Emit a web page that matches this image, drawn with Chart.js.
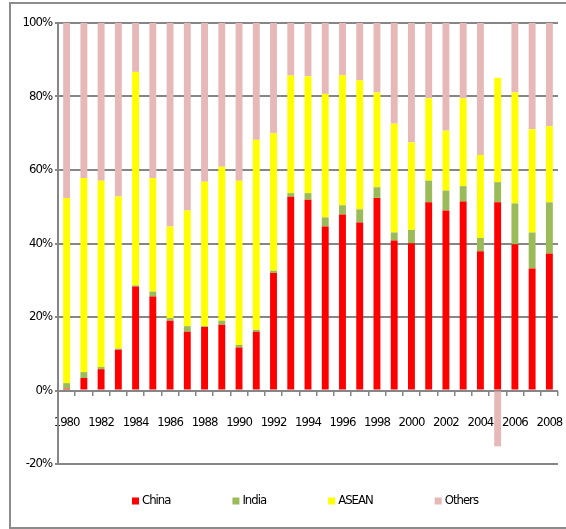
<!DOCTYPE html>
<html>
<head>
<meta charset="utf-8">
<script src="https://cdn.jsdelivr.net/npm/chart.js@4.4.1/dist/chart.umd.min.js"></script>
<style>
  html, body { margin: 0; padding: 0; background: #fff; overflow: hidden; }
  #frame { position: absolute; left: 9px; top: 2px; width: 620px; height: 527px; border: 2px solid #8c8c8c; box-sizing: border-box; }
  #wrap { position: absolute; left: 0; top: 0; width: 566px; height: 529px; }
</style>
</head>
<body>
<div id="frame"></div>
<div id="wrap"><canvas id="share-chart"></canvas></div>
<script>
const years = [
    1980, 1981, 1982, 1983, 1984, 1985, 1986, 1987, 1988, 1989,
    1990, 1991, 1992, 1993, 1994, 1995, 1996, 1997, 1998, 1999,
    2000, 2001, 2002, 2003, 2004, 2005, 2006, 2007, 2008,
];

// shares in %, stacked bottom to top
const china = [
    0.5, 3.4, 5.8, 11.1, 28.3, 25.6, 19.0, 16.0, 17.3, 17.9,
    11.7, 16.0, 32.0, 52.7, 51.9, 44.6, 47.9, 45.7, 52.4, 40.8,
    40.1, 51.2, 49.0, 51.4, 37.9, 51.2, 39.8, 33.2, 37.3,
];
const india = [
    1.5, 1.6, 0.6, 0.3, 0.3, 1.3, 0.7, 1.5, 0.2, 1.1,
    0.7, 0.5, 0.6, 1.0, 1.8, 2.5, 2.5, 3.6, 2.9, 2.2,
    3.6, 5.9, 5.4, 4.2, 3.6, 5.5, 11.1, 9.8, 13.9,
];
const asean = [
    50.4, 52.8, 50.7, 41.4, 58.1, 30.9, 24.9, 31.5, 39.3, 41.9,
    44.7, 51.7, 37.4, 32.0, 31.8, 33.6, 35.4, 35.1, 25.8, 29.6,
    23.8, 22.4, 16.3, 23.9, 22.6, 28.4, 30.2, 28.1, 20.7,
];
const others = [
    47.6, 42.2, 42.9, 47.2, 13.3, 42.2, 55.4, 51.0, 43.2, 39.1,
    42.9, 31.8, 30.0, 14.3, 14.5, 19.3, 14.2, 15.6, 18.9, 27.4,
    32.5, 20.5, 29.3, 20.5, 35.9, -15.2, 18.9, 28.9, 28.1,
];

const yTicks = [-20, 0, 20, 40, 60, 80, 100];

const fontFamily = "'DejaVu Sans', sans-serif";
const fontSize = 13;
const letterGap = "-1px";
const gridColor = "#868686";

Chart.defaults.font.family = fontFamily;
Chart.defaults.font.size = fontSize;
// goes into the canvas font shorthand -> condensed face
Chart.defaults.font.weight = "condensed";
Chart.defaults.color = "#000";

// tighter letters for all chart text
const tightText = {
    id: "tightText",
    beforeDraw(chart) {
        chart.ctx.letterSpacing = letterGap;
    },
};

// legend in one row with wide gaps, drawn under the plot
const legendRow = {
    id: "legendRow",
    afterDraw(chart) {
        const { ctx, chartArea } = chart;
        const sets = chart.data.datasets;
        const box = 7, gap = 3, spacing = 62, y = 501;
        ctx.save();
        ctx.font = "condensed " + fontSize + "px " + fontFamily;
        ctx.letterSpacing = letterGap;
        ctx.textBaseline = "middle";
        ctx.textAlign = "left";
        const widths = sets.map(d => box + gap + ctx.measureText(d.label).width);
        const total = widths.reduce((a, b) => a + b, 0) + spacing * (sets.length - 1);
        let x = (chartArea.left + chartArea.right) / 2 - 3 - total / 2;
        sets.forEach((d, i) => {
            ctx.fillStyle = d.backgroundColor;
            ctx.fillRect(x, y - box / 2, box, box);
            ctx.fillStyle = "#000";
            ctx.fillText(d.label, x + box + gap, y);
            x += widths[i] + spacing;
        });
        ctx.restore();
    },
};

const ctx = document.getElementById("share-chart");

let chart = new Chart(ctx, {
    type: "bar",
    data: {
        labels: years,
        datasets: [
            { label: "China", data: china, backgroundColor: "#ff0000" },
            { label: "India", data: india, backgroundColor: "#9bbb59" },
            { label: "ASEAN", data: asean, backgroundColor: "#ffff00" },
            { label: "Others", data: others, backgroundColor: "#e6b9b8" },
        ],
    },
    options: {
        responsive: true,
        maintainAspectRatio: false,
        animation: false,
        barPercentage: 0.4,
        categoryPercentage: 1,
        layout: {
            padding: { left: 10, top: 23, right: 8, bottom: 65 },
        },
        scales: {
            x: {
                stacked: true,
                position: { y: 0 },
                // labels sit on the bars, no extra room needed at the ends
                afterFit: (scale) => {
                    scale.paddingLeft = 0;
                    scale.paddingRight = 0;
                },
                grid: {
                    drawOnChartArea: false,
                    drawTicks: true,
                    tickLength: 5,
                    color: gridColor,
                    lineWidth: 1.5,
                },
                border: { display: false },
                ticks: {
                    autoSkip: false,
                    maxRotation: 0,
                    padding: 19,
                    callback: function (value, index) {
                        return index % 2 === 0 ? this.getLabelForValue(value) : "";
                    },
                },
            },
            y: {
                stacked: true,
                min: yTicks[0],
                max: yTicks[yTicks.length - 1],
                afterBuildTicks: (scale) => {
                    scale.ticks = yTicks.map(v => ({ value: v }));
                },
                afterFit: (scale) => {
                    scale.width = 48;
                },
                grid: {
                    color: gridColor,
                    lineWidth: 2,
                    tickLength: 3,
                },
                border: { color: gridColor, width: 2 },
                ticks: {
                    padding: 3,
                    callback: (v) => v + "%",
                },
            },
        },
        plugins: {
            legend: { display: false },
            tooltip: { enabled: false },
        },
    },
    plugins: [tightText, legendRow],
});
</script>
</body>
</html>
